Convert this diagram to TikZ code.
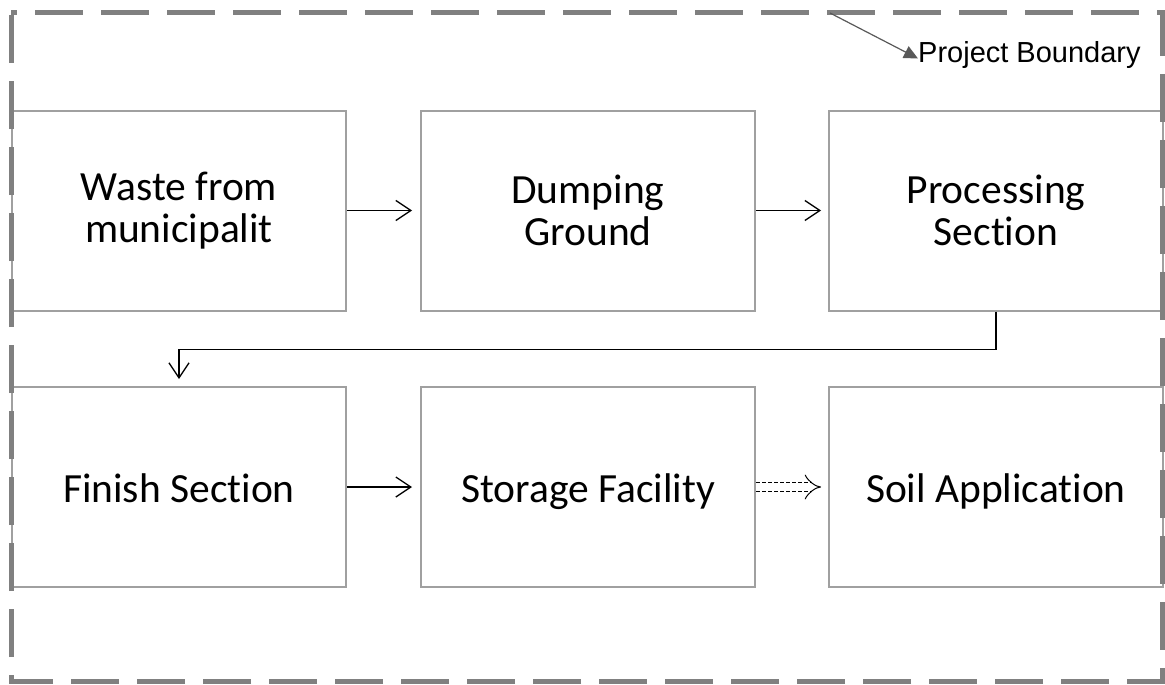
\documentclass[tikz,border=0pt]{standalone}
\usepackage{fontspec}
\setmainfont{Carlito}[Ligatures=NoCommon]
\newfontfamily\labelfont{Liberation Sans}
\usetikzlibrary{arrows.meta}
\definecolor{framegray}{HTML}{808080}
\definecolor{boxgray}{HTML}{A0A0A0}
\definecolor{notegray}{HTML}{595959}
\tikzset{
  stagebox/.style={draw=boxgray, line width=2pt, fill=white, minimum width=334pt,
    minimum height=200pt, inner sep=0pt, align=center,
    font=\fontsize{41.5}{42}\selectfont},
  oneline/.style={text height=34pt, text depth=4pt},
  conn/.style={draw=black, line width=1.3pt,
    -{Straight Barb[length=15pt,width=20pt,line width=1.3pt]}},
  frame/.style={draw=framegray, line width=5pt, dash pattern=on 48pt off 18pt, dash phase=42pt}
}
\begin{document}
\begin{tikzpicture}[x=1pt,y=-1pt]
\useasboundingbox (0,0) rectangle (1165,685);

% process stages, top row
\node[stagebox] (waste) at (179,210.5) {Waste from\\municipalit};
\node[stagebox] (dump)  at (588,210.5) {Dumping\\Ground};
\node[stagebox] (proc)  at (996,210.5) {Processing\\Section};
% bottom row
\node[stagebox, oneline] (fin)   at (179,487) {Finish Section};
\node[stagebox, oneline] (stor)  at (588,487) {Storage Facility};
\node[stagebox, oneline] (soil)  at (996,487) {Soil Application};

% flow between stages
\draw[conn, shorten >=8pt] (waste.east) -- (dump.west);
\draw[conn, shorten >=7pt] (dump.east) -- (proc.west);
\draw[conn, shorten >=7pt] (proc.south) -- ++(0,38) -| (fin.north);
\draw[conn, shorten >=8pt] (fin.east) -- (stor.west);
\draw[draw=black, line width=1pt, double=white, double distance=8pt,
      dash pattern=on 4pt off 2pt, shorten >=7pt,
      -{Implies[length=8pt]}] (stor.east) -- (soil.west);

% project boundary
\draw[frame] (11,13) -- (1162,13) -- (1162,681) -- (11,681) -- cycle;
\node[font=\labelfont\fontsize{29}{34}\selectfont, anchor=base west, inner sep=0pt]
  (pb) at (918,63) {Project Boundary};
\coordinate (pbstart) at (830,13);
\draw[draw=notegray, line width=1.2pt,
      -{Triangle[length=14pt,width=13pt]}] (pbstart) -- ([yshift=-3pt]pb.west);
\end{tikzpicture}
\end{document}
